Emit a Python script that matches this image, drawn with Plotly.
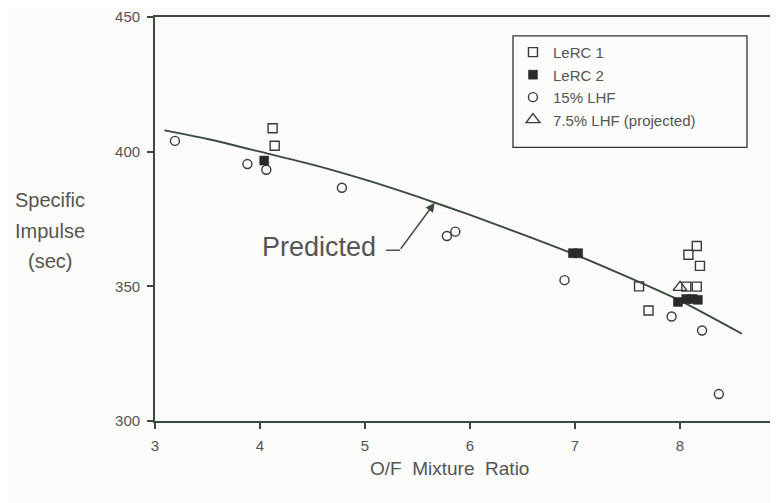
import plotly.graph_objects as go

# ---- data ----
lerc1_x = [4.12, 4.14, 7.61, 7.70, 8.06, 8.08, 8.16, 8.16, 8.19]
lerc1_y = [408.7, 402.2, 350.0, 341.0, 349.9, 361.7, 365.0, 349.9, 357.6]

lerc2_x = [4.04, 6.98, 7.03, 7.98, 8.06, 8.12, 8.17]
lerc2_y = [396.7, 362.3, 362.3, 344.2, 345.3, 345.3, 345.0]

lhf15_x = [3.19, 3.88, 4.06, 4.78, 5.78, 5.86, 6.90, 7.92, 8.21, 8.37]
lhf15_y = [404.0, 395.4, 393.3, 386.6, 368.7, 370.3, 352.3, 338.8, 333.6, 310.0]

lhf75_x = [8.00]
lhf75_y = [349.6]

pred_x = [3.09, 3.5, 4.0, 4.5, 5.0, 5.5, 6.0, 6.5, 7.0, 7.5, 8.0, 8.59]
pred_y = [407.9, 404.7, 400.0, 395.2, 389.6, 383.3, 376.5, 369.3, 361.8, 353.5, 344.7, 332.4]

x_ticks = [3, 4, 5, 6, 7, 8]
y_ticks = [300, 350, 400, 450]

FONT = "Liberation Sans, Arial, Helvetica, sans-serif"
TXT = "#555555"
AX = "#3b4a40"
MK = "#3a3a3a"

fig = go.Figure()

fig.add_trace(go.Scatter(x=pred_x, y=pred_y, mode="lines", showlegend=False,
                         line=dict(color=AX, width=1.9, shape="spline", smoothing=0.6),
                         hoverinfo="skip"))

fig.add_trace(go.Scatter(x=lerc1_x, y=lerc1_y, mode="markers", name="LeRC 1",
                         marker=dict(symbol="square-open", size=9, color=MK,
                                     line=dict(width=1.4, color=MK))))
fig.add_trace(go.Scatter(x=lerc2_x, y=lerc2_y, mode="markers", name="LeRC 2",
                         marker=dict(symbol="square", size=9, color="#2a2a2a",
                                     line=dict(width=0.5, color="#2a2a2a"))))
fig.add_trace(go.Scatter(x=lhf15_x, y=lhf15_y, mode="markers", name="15% LHF",
                         marker=dict(symbol="circle-open", size=9, color=MK,
                                     line=dict(width=1.4, color=MK))))
fig.add_trace(go.Scatter(x=lhf75_x, y=lhf75_y, mode="markers", name="7.5% LHF (projected)",
                         marker=dict(symbol="triangle-up-open", size=12, color=MK,
                                     line=dict(width=1.4, color=MK))))

# "Predicted" label with leader line and arrow
fig.add_shape(type="line", x0=5.20, y0=363.4, x1=5.335, y1=363.4,
              line=dict(color=AX, width=1.4))
fig.add_annotation(x=5.664, y=381.0, ax=5.33, ay=363.4, axref="x", ayref="y",
                   xref="x", yref="y", text="", showarrow=True,
                   arrowhead=2, arrowsize=1.3, arrowwidth=1.4, arrowcolor=AX)
fig.add_annotation(x=4.562, y=364.6, xref="x", yref="y", text="Predicted",
                   showarrow=False, xanchor="center", yanchor="middle",
                   font=dict(family=FONT, size=27, color=TXT))

# legend frame
fig.add_shape(type="rect", xref="paper", yref="paper",
              x0=0.5746, x1=0.9502, y0=0.6773, y1=0.9532,
              line=dict(color="#333333", width=1.3))

# axis titles
fig.add_annotation(x=0.4735, y=-0.118, xref="paper", yref="paper",
                   text="O/F  Mixture  Ratio", showarrow=False,
                   xanchor="center", yanchor="middle",
                   font=dict(family=FONT, size=19, color=TXT))
for txt, yy in [("Specific", 0.5475), ("Impulse", 0.4704), ("(sec)", 0.3966)]:
    fig.add_annotation(x=-0.1685, y=yy, xref="paper", yref="paper", text=txt,
                       showarrow=False, xanchor="center", yanchor="middle",
                       font=dict(family=FONT, size=20, color=TXT))

# page body has an 8px margin: figure is sized/offset to compensate
fig.update_layout(
    width=770, height=495,
    margin=dict(l=147, r=0, t=7, b=82),
    paper_bgcolor="#fbfbf9", plot_bgcolor="#fbfbf9",
    font=dict(family=FONT, size=15, color=TXT),
    legend=dict(x=0.5746, y=0.9532, xanchor="left", yanchor="top",
                bgcolor="rgba(0,0,0,0)", borderwidth=0,
                font=dict(family=FONT, size=15, color=TXT)),
    xaxis=dict(range=[3, 3 + 623 / 105], tickvals=x_ticks, ticks="outside",
               ticklen=6, tickwidth=1.5, tickcolor=AX, showline=True,
               linecolor=AX, linewidth=1.8, mirror=True, showgrid=False,
               zeroline=False, ticklabelstandoff=4,
               tickfont=dict(family=FONT, size=15, color=TXT)),
    yaxis=dict(range=[300, 450], tickvals=y_ticks, ticks="outside",
               ticklen=6, tickwidth=1.5, tickcolor=AX, showline=True,
               linecolor=AX, linewidth=1.8, mirror=False, showgrid=False,
               zeroline=False, ticklabelstandoff=4, ticklabeloverflow="allow",
               tickfont=dict(family=FONT, size=15, color=TXT)),
)

fig.write_html("out.html")
